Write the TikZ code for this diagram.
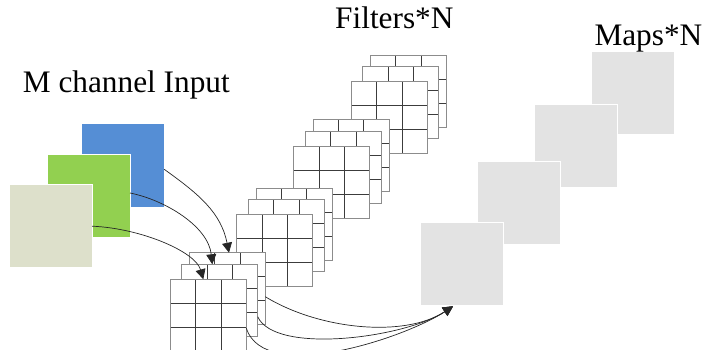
\documentclass[tikz,border=0pt]{standalone}
\usepackage{fontspec}
\setmainfont{Liberation Serif}
\usetikzlibrary{arrows.meta,calc}
\definecolor{inblue}{HTML}{558ED5}
\definecolor{ingreen}{HTML}{92D050}
\definecolor{inpale}{HTML}{DDE0CB}
\definecolor{mapgray}{HTML}{E3E3E3}
\definecolor{gridin}{HTML}{3C3C3C}
\definecolor{gridout}{HTML}{8C8C8C}
\tikzset{
  chan/.style={rectangle, minimum width=83pt, minimum height=83pt, inner sep=0pt, outer sep=0pt, draw=white, line width=0.6pt},
  fmap/.style={chan, fill=mapgray},
  layer/.style={rectangle, minimum width=76pt, minimum height=72pt, inner sep=0pt, outer sep=0pt,
    fill=white, draw=gridout, line width=0.8pt,
    path picture={
      \foreach \f in {0.3333,0.6667}{
        \draw[gridin, line width=0.8pt]
          ($(path picture bounding box.north west)!\f!(path picture bounding box.north east)$) --
          ($(path picture bounding box.south west)!\f!(path picture bounding box.south east)$)
          ($(path picture bounding box.north west)!\f!(path picture bounding box.south west)$) --
          ($(path picture bounding box.north east)!\f!(path picture bounding box.south east)$);
      }
    }},
  link/.style={draw=black!85, line width=0.7pt, -{Triangle[length=10pt,width=10pt]}},
  lbl/.style={anchor=base west, inner sep=0pt, font=\fontsize{31.3}{33}\selectfont}
}
\begin{document}
\begin{tikzpicture}[x=1pt,y=-1pt]
\useasboundingbox (0,0) rectangle (704,350);
\clip (0,0) rectangle (704,350);

% titles
\node[lbl] (tin) at (22.7,92.7) {M channel Input};
\node[lbl] (tfil) at (335,28.3) {Filters*N};

% input channels
\node[chan, fill=inblue] (blue) at (122.7,165.3) {};
\node[chan, fill=ingreen] (green) at (88.5,195.5) {};
\node[chan, fill=inpale] (pale) at (50.7,226.2) {};

% output maps
\node[fmap] (M4) at (632.5,93.3) {};
\node[fmap] (M3) at (575.7,146) {};
\node[fmap] (M2) at (518.7,203.2) {};
\node[fmap] (M1) at (461.5,263.8) {};
\node[lbl] (tmap) at (594.3,45.7) {Maps*N};

% filter stacks (back to front)
\node[layer] (L4c) at (408.3,91) {};
\node[layer] (L4b) at (400.7,102.3) {};
\node[layer] (L4a) at (389.3,117.3) {};
\node[layer] (L3c) at (351,155.7) {};
\node[layer] (L3b) at (343.3,167) {};
\node[layer] (L3a) at (331.7,182.3) {};
\node[layer] (L2c) at (294,224.3) {};
\node[layer] (L2b) at (286.3,235.7) {};
\node[layer] (L2a) at (274.7,250.3) {};
\node[layer] (L1c) at (227.3,288.7) {};
\node[layer] (L1b) at (219.7,300.3) {};
\node[layer] (L1a) at (208.3,315.3) {};

% input arrows
\draw[link] ([yshift=-4pt]blue.east) .. controls +(35,25) and +(-8,-40) .. ([xshift=1.7pt]L1c.north);
\draw[link] ([yshift=2.5pt]green.east) .. controls +(35,7) and +(-4,-38) .. ([xshift=-7.4pt]L1b.north);
\draw[link] (pale.east) .. controls +(48,2) and +(-8,-28) .. ([xshift=-5pt]L1a.north);

% output arrows
\draw[link] ([yshift=-8pt]L1c.east) .. controls +(54.5,33.3) and +(-48,31.5) .. ([xshift=-8.5pt,yshift=-1pt]M1.south);
\draw[link] ([yshift=-16.4pt]L1b.east) .. controls +(17.3,38.3) and +(-48,31.5) .. ([xshift=-8.5pt,yshift=-1pt]M1.south);
\draw[link] ([yshift=-13pt]L1a.east) .. controls +(18.7,56.7) and +(-48,31.5) .. ([xshift=-8.5pt,yshift=-1pt]M1.south);
\end{tikzpicture}
\end{document}
